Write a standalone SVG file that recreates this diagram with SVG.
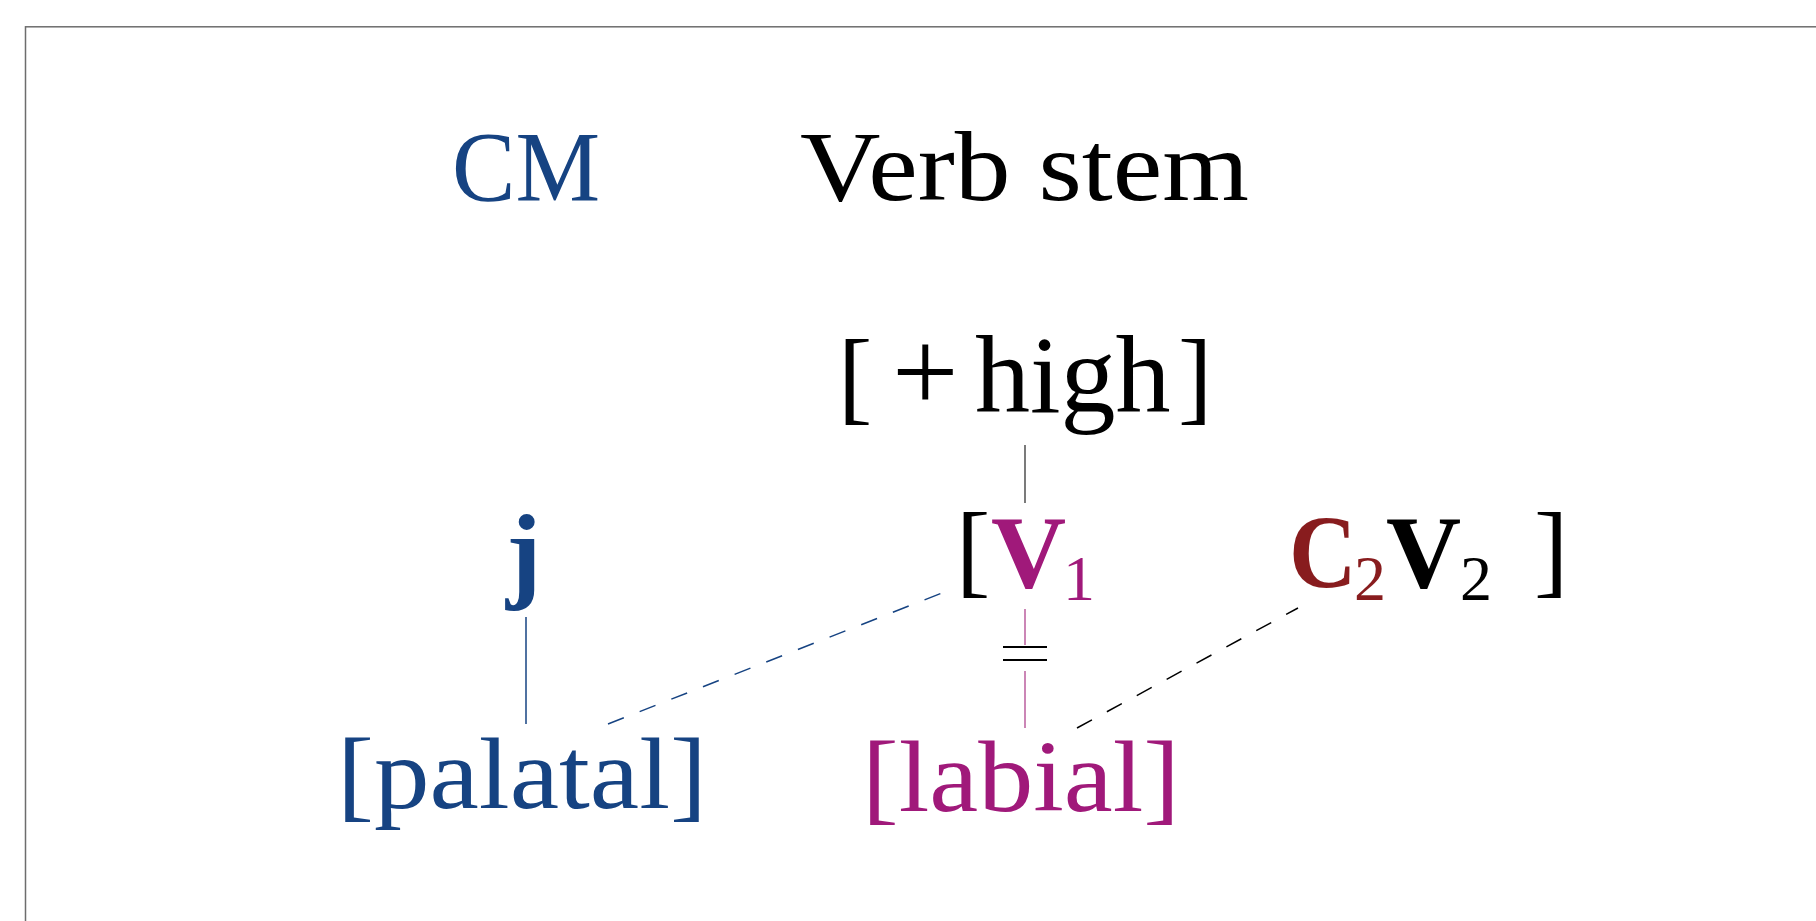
<svg xmlns="http://www.w3.org/2000/svg" width="1816" height="921" viewBox="0 0 1816 921">
<style>
text{font-family:"Liberation Serif","Times New Roman",serif;}
.blue{fill:#164382;}
.mag{fill:#a0197a;}
.red{fill:#881c1e;}
.blk{fill:#000;}
.b{font-weight:bold;}
.big{font-size:103px;}
.head{font-size:99px;}
.sub{font-size:64px;}
</style>
<rect x="25.5" y="26.8" width="1830" height="930" fill="#fff" stroke="#6d6d6d" stroke-width="1.5"/>
<g id="connectors" fill="none">
  <line x1="1025" y1="445" x2="1025" y2="503" stroke="#222" stroke-width="1.2"/>
  <line x1="526" y1="617" x2="526" y2="724" stroke="#164382" stroke-width="1.5"/>
  <line x1="608" y1="724" x2="942" y2="593" stroke="#164382" stroke-width="1.5" stroke-dasharray="17 17"/>
  <line x1="1025" y1="609" x2="1025" y2="645" stroke="#b0458f" stroke-width="1.3"/>
  <line x1="1025" y1="671" x2="1025" y2="728" stroke="#b0458f" stroke-width="1.3"/>
  <line x1="1003" y1="647" x2="1047" y2="647" stroke="#000" stroke-width="2"/>
  <line x1="1003" y1="660" x2="1047" y2="660" stroke="#000" stroke-width="2"/>
  <line x1="1077" y1="728" x2="1298" y2="608" stroke="#000" stroke-width="1.5" stroke-dasharray="17 17"/>
</g>
<g id="cm"><text class="blue head" x="452" y="200" textLength="148" lengthAdjust="spacingAndGlyphs">CM</text></g>
<g id="verbstem"><text class="blk head" x="800" y="200" textLength="449" lengthAdjust="spacingAndGlyphs">Verb stem</text></g>
<g id="high">
  <text class="blk big"><tspan x="838" y="411">[</tspan><tspan x="892" y="412" font-size="118">+</tspan><tspan x="975" y="412" font-size="110">high</tspan><tspan x="1178" y="411">]</tspan></text>
</g>
<g id="j"><text class="blue b" x="506" y="588" font-size="106">j</text></g>
<g id="v1">
  <text class="blk big"><tspan x="956" y="584">[</tspan><tspan class="mag b" x="991" y="587" font-size="104">V</tspan><tspan class="mag sub" x="1063" y="600">1</tspan></text>
</g>
<g id="c2v2">
  <text class="red b" font-size="104" transform="translate(1289,587) scale(0.9,1)">C</text>
  <text class="blk big"><tspan class="red sub" x="1354" y="600">2</tspan><tspan class="blk b" x="1386" y="587" font-size="104">V</tspan><tspan class="blk sub" x="1460" y="600">2</tspan><tspan x="1534" y="584">]</tspan></text>
</g>
<g id="palatal"><text class="blue" x="337" y="808" font-size="102" textLength="370" lengthAdjust="spacingAndGlyphs">[palatal]</text></g>
<g id="labial"><text class="mag" x="862" y="811" font-size="102" textLength="318" lengthAdjust="spacingAndGlyphs">[labial]</text></g>
</svg>
